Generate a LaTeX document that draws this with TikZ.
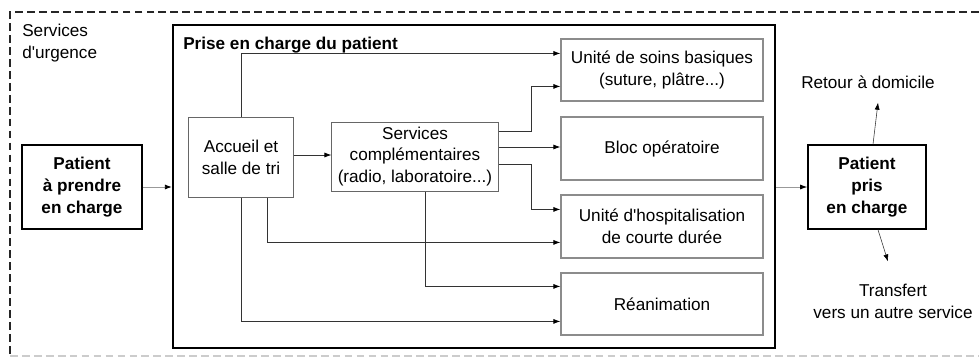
\documentclass[tikz,border=0pt]{standalone}
\usepackage{fontspec}
\setmainfont{Liberation Sans}
\usetikzlibrary{arrows.meta,calc}
\newcommand{\txtsize}{\fontsize{12.2}{15.6}\selectfont}

\begin{document}
\begin{tikzpicture}[x=0.025cm,y=-0.025cm,font=\txtsize,
    patient/.style={draw,line width=1.1pt,minimum width=3cm,minimum height=2.1cm,align=center,inner sep=0pt,font=\txtsize\bfseries},
    unit/.style={draw=black!45,line width=0.8pt,minimum width=5.05cm,minimum height=1.55cm,align=center,inner sep=0pt},
    conn/.style={draw=black!80,line width=0.6pt,-{Latex[length=5pt,width=3.6pt,color=black]}},
    light/.style={conn,draw=black!40}]
    \useasboundingbox (0,0) rectangle (979,357);
    % service boundary, cut by the page on the right
    \draw[dash pattern=on 5.5pt off 3pt,line width=0.8pt,black!85] (979,12) -- (10,12) -- (10,356);
    \draw[dash pattern=on 5.5pt off 3pt,line width=0.8pt,black!20] (10,356) -- (979,356);
    \node[anchor=north west,inner sep=0pt,align=left] (urgence) at (22,24) {Services\\d\textquotesingle urgence};

    \node[patient] (patin) at (82,187) {Patient\\à prendre\\en charge};
    \node[draw,line width=1.5pt,minimum width=15.05cm,minimum height=8.075cm,inner sep=0pt] (prise) at (474,186.5) {};
    \node[anchor=base west,inner sep=0pt,font=\txtsize\bfseries] (titre) at (183,49) {Prise en charge du patient};
    \node[patient,minimum width=2.95cm] (patout) at (867,187) {Patient\\pris\\en charge};

    \node[draw=black!60,line width=0.7pt,minimum width=2.6cm,minimum height=2cm,align=center,inner sep=0pt] (accueil) at (241,157) {Accueil et\\salle de tri};
    \node[draw=black!60,line width=0.7pt,minimum width=4.15cm,minimum height=1.725cm,align=center,inner sep=0pt] (compl) at (415,156.5) {Services\\complémentaires\\(radio, laboratoire...)};

    \node[unit] (soins) at (662,70) {Unité de soins basiques\\(suture, plâtre...)};
    \node[unit,minimum height=1.575cm] (bloc) at (662,148.5) {Bloc opératoire};
    \node[unit,minimum height=1.575cm] (hospi) at (662,226.5) {Unité d\textquotesingle hospitalisation\\de courte durée};
    \node[unit] (rea) at (662,304) {Réanimation};

    \node[inner sep=0pt] (retour) at (868,82) {Retour à domicile};
    \node[inner sep=0pt,align=center] (transfert) at (893,301) {Transfert\\vers un autre service};

    % flows
    \draw[light] (patin.east) -- (prise.west |- patin.east);
    \draw[light] (prise.east |- patout.west) -- (patout.west);
    \draw[conn] (accueil.east |- 0,155) -- (compl.west |- 0,155);
    \draw[conn] (accueil.north) |- ($(soins.north west)+(0,15)$);
    \draw[conn] ($(compl.north east)+(0,10)$) -- ++(33,0) |- ($(soins.north west)+(0,48)$);
    \draw[conn] (compl.east |- 0,147) -- (bloc.west |- 0,147);
    \draw[conn] ($(compl.north east)+(0,43)$) -- ++(33,0) |- ($(hospi.north west)+(0,15)$);
    \draw[conn] ($(compl.south)+(10,0)$) |- ($(rea.north west)+(0,14)$);
    \draw[conn] ($(accueil.south)+(26,0)$) |- ($(hospi.north west)+(0,48)$);
    \draw[conn] (accueil.south) |- ($(rea.north west)+(0,49)$);
    \draw[conn,line width=0.4pt] ($(patout.north)+(6,0)$) -- ($(retour.south)+(10,14)$);
    \draw[conn,line width=0.4pt] ($(patout.south)+(11,0)$) -- ($(transfert.north)+(-5,-22)$);
\end{tikzpicture}
\end{document}
